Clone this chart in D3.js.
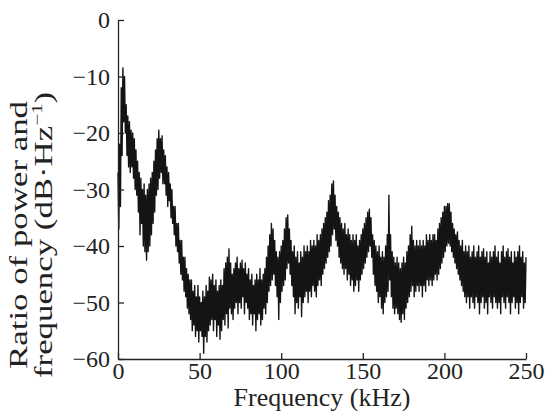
<!DOCTYPE html>
<html>
<head>
<meta charset="utf-8">
<script src="https://cdn.jsdelivr.net/npm/d3@7"></script>
<style>
  body { margin: 0; background: #fff; }
  text { font-family: "Liberation Serif", "Times New Roman", serif; fill: #222; }
</style>
</head>
<body>
<div id="chart"></div>
<script>
// Tick values
const xTicks = [0, 50, 100, 150, 200, 250];
const yTicks = [0, -10, -20, -30, -40, -50, -60];

// Spectrum, one pair per kHz (0..250):
// upper edge and lower edge of the noisy trace, in dB/Hz
const hi = [
  -27, -22, -12, -8.5, -10, -15, -17, -18, -19.5, -20,
  -21, -23, -25, -27, -28, -30, -29, -31, -30, -29,
  -28, -27, -25, -23, -21, -19.5, -21, -20.5, -23, -24,
  -26, -27, -29, -30, -33, -33, -36, -36, -39, -39,
  -42, -42, -44, -45, -46, -46, -48, -47, -49, -47,
  -49, -50, -48, -49, -47, -48, -45.5, -46, -45, -47,
  -46, -48, -47, -46, -47, -44, -43, -42, -40.5, -43,
  -45, -44, -43, -42, -44, -43, -42.5, -44, -43, -45,
  -44, -46, -45, -47, -46, -45, -46, -44, -46, -45,
  -44, -42, -40, -38, -36, -37, -39, -41, -42, -41,
  -40, -39, -37, -35, -34.5, -37, -39, -41, -40, -42,
  -41, -43, -41, -42, -40, -41, -40, -41, -39, -40,
  -39, -40, -38, -39, -38, -37, -36, -35, -34, -32,
  -31, -29, -28.5, -31, -33, -34, -35, -36, -37, -36,
  -38, -37, -38, -39, -38, -39, -38, -40, -39, -38,
  -37, -36, -35, -34, -33.5, -35, -38, -39, -40, -41,
  -40, -42, -41, -42, -40, -38, -31, -38, -41, -42,
  -43, -42, -43, -44, -43, -42, -43, -41, -40, -38,
  -36.5, -39, -40, -39, -40, -39, -40, -39, -40, -38,
  -39, -38, -39, -38, -38, -39, -37, -36, -35, -34,
  -33, -33, -32.5, -32.5, -34, -36, -37, -38, -37.5, -39,
  -40, -39, -41, -40, -41, -40, -42, -41, -40, -42,
  -41, -40, -42, -41, -40.5, -42, -41, -43, -41, -42,
  -41, -40, -42, -41, -43, -41, -40, -42, -41, -40.5,
  -42, -41, -43, -41, -42, -41, -40, -42, -41, -43,
  -42
];
const lo = [
  -37, -33, -24, -18, -20, -24, -26, -27, -26, -28,
  -30, -31, -34, -38, -36, -40, -41, -42.5, -41, -40,
  -38, -36, -34, -31, -30, -28, -27, -29, -29, -31,
  -33, -32, -35, -36, -38, -40, -41, -43, -45, -46,
  -48, -49, -51, -52, -53, -55, -54, -56, -55, -57,
  -55, -56, -59, -56, -57, -55, -54, -53, -55, -53,
  -56, -54, -56.5, -55, -53, -54, -52, -54.5, -51, -52,
  -53, -51, -50, -52, -50, -51, -49, -52, -50, -51,
  -53, -52, -54, -52, -55, -53, -52, -54, -53, -51,
  -52, -50, -48, -47, -46, -45, -47, -49, -53, -50,
  -48, -47, -46, -44, -43, -45, -47, -49, -52, -50,
  -51, -49, -52.5, -50, -49, -48, -50, -48, -49, -47,
  -48, -49, -47, -46, -47, -45, -44, -43, -42, -41,
  -40, -38, -37, -39, -40, -42, -43, -44, -45, -44,
  -46, -45, -47, -46, -48, -47, -46, -48, -46, -45,
  -44, -43, -42, -41, -40, -42, -45, -47, -48, -50,
  -49, -51, -52, -50, -49, -48, -46, -49, -51, -52,
  -51, -52, -53, -53.5, -52, -53, -51, -50, -49, -48,
  -47, -49, -48, -47, -48, -47, -49, -47, -48, -46,
  -47, -46, -47, -46, -45, -46, -45, -44, -43, -42,
  -41, -40, -39.5, -40, -41, -42, -43, -44, -45, -46,
  -47, -48, -49, -50, -49, -51, -49, -50, -51, -49,
  -50, -52, -50, -49, -51, -50, -52, -49, -50, -51,
  -49, -50, -51, -50, -52, -49, -50, -51, -49, -50,
  -52, -50, -49, -51, -50, -52, -50, -49, -51, -50,
  -48
];
const freq = hi.map((d, i) => i);

const width = 549;
const height = 411;
const margin = {top: 20, right: 23, bottom: 52, left: 118};

const svg = d3.select('#chart')
  .append('svg')
    .attr('width', width)
    .attr('height', height);

const xScale = d3.scaleLinear()
  .domain([0, 250])
  .range([margin.left, width - margin.right]);
const yScale = d3.scaleLinear()
  .domain([-60, 0])
  .range([height - margin.bottom, margin.top]);

// Trace: upper edge then lower edge half a kHz later
const points = [];
freq.forEach((f, i) => {
  points.push([f, hi[i]]);
  if (i < freq.length - 1) points.push([f + 0.5, lo[i]]);
});

const line = d3.line()
  .x(d => xScale(d[0]))
  .y(d => yScale(d[1]));

svg.append('path')
  .datum(points)
  .attr('d', line)
  .attr('fill', 'none')
  .attr('stroke', '#141414')
  .attr('stroke-width', 1.4)
  .attr('stroke-linejoin', 'round');

// Axes, ticks pointing inward
const xAxis = svg.append('g')
  .attr('transform', `translate(0, ${height - margin.bottom})`)
  .call(d3.axisBottom(xScale).tickValues(xTicks).tickSizeInner(-6).tickSizeOuter(0).tickPadding(3));
const yAxis = svg.append('g')
  .attr('transform', `translate(${margin.left}, 0)`)
  .call(d3.axisLeft(yScale).tickValues(yTicks).tickSizeInner(-6).tickSizeOuter(0).tickPadding(8)
    .tickFormat(d => d < 0 ? '\u2212' + Math.abs(d) : d));

[xAxis, yAxis].forEach(g => {
  g.select('.domain').attr('stroke', '#222').attr('stroke-width', 1.3);
  g.selectAll('.tick line').attr('stroke', '#222').attr('stroke-width', 1.3);
  g.selectAll('.tick text')
    .attr('font-family', '"Liberation Serif", serif')
    .attr('font-size', 24)
    .attr('fill', '#222');
});

// Axis titles
svg.append('text')
  .attr('x', (xScale(0) + xScale(250)) / 2)
  .attr('y', 406)
  .attr('text-anchor', 'middle')
  .attr('font-size', 26)
  .text('Frequency (kHz)');

// the y title is drawn wider along its length in the original
const yTitle = svg.append('g')
  .attr('transform', 'translate(0, 235) rotate(-90)')
  .attr('font-size', 25);
yTitle.append('text')
  .attr('x', -134)
  .attr('y', 27)
  .attr('textLength', 268)
  .attr('lengthAdjust', 'spacingAndGlyphs')
  .text('Ratio of power and');
const t2 = yTitle.append('text')
  .attr('x', -143)
  .attr('y', 52)
  .attr('textLength', 286)
  .attr('lengthAdjust', 'spacingAndGlyphs');
t2.append('tspan').text('frequency (dB\u00b7Hz');
t2.append('tspan').attr('font-size', 15).attr('dy', -10).text('\u22121');
t2.append('tspan').attr('dy', 10).text(')');
</script>
</body>
</html>
